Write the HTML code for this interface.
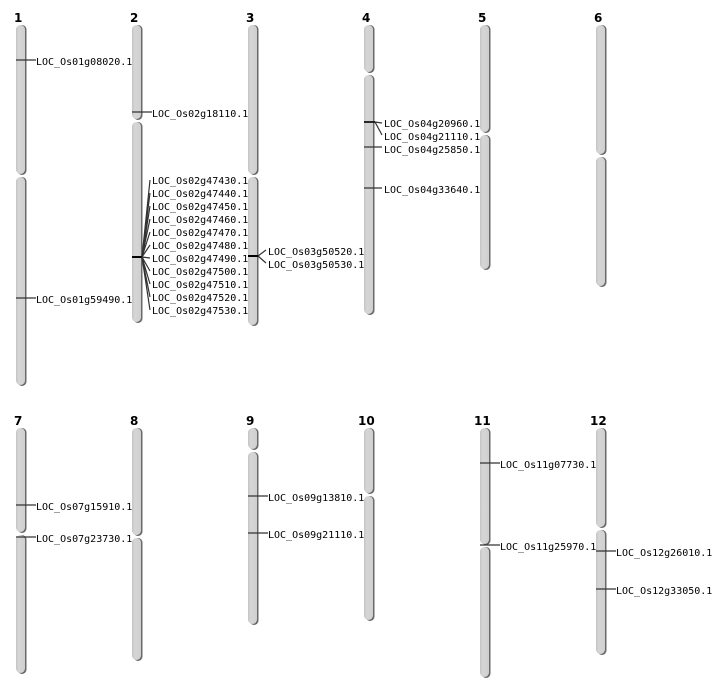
<!DOCTYPE html>
<html><head><meta charset="utf-8"><style>
html,body{margin:0;padding:0;background:#fff;}
svg{display:block;}
.n{font-family:"DejaVu Sans","Liberation Sans",sans-serif;font-weight:bold;font-size:12px;fill:#000;}
.l{font-family:"DejaVu Sans Mono","Liberation Mono",monospace;font-size:10px;fill:#000;}
.m{stroke:#333;stroke-width:1.2;fill:none;}
</style></head><body>
<svg width="712" height="700" viewBox="0 0 712 700" xmlns="http://www.w3.org/2000/svg">
<defs>
<linearGradient id="g" x1="0" x2="1" y1="0" y2="0">
<stop offset="0" stop-color="#c4c4c4"/><stop offset="0.3" stop-color="#d6d6d6"/><stop offset="1" stop-color="#cfcfcf"/>
</linearGradient>
<symbol id="dummy"></symbol>
</defs>
<g id="chroms">
<!-- chromosome arms: shadow + body -->
<!-- 1 -->
<rect x="17.5" y="25" width="9" height="150" rx="4.5" fill="#6a6a6a"/><rect x="16" y="25" width="9" height="149" rx="4.5" fill="url(#g)"/>
<rect x="17.5" y="177" width="9" height="209" rx="4.5" fill="#6a6a6a"/><rect x="16" y="177" width="9" height="208" rx="4.5" fill="url(#g)"/>
<!-- 2 -->
<rect x="133.5" y="25" width="9" height="95" rx="4.5" fill="#6a6a6a"/><rect x="132" y="25" width="9" height="94" rx="4.5" fill="url(#g)"/>
<rect x="133.5" y="122" width="9" height="201" rx="4.5" fill="#6a6a6a"/><rect x="132" y="122" width="9" height="200" rx="4.5" fill="url(#g)"/>
<!-- 3 -->
<rect x="249.5" y="25" width="9" height="150" rx="4.5" fill="#6a6a6a"/><rect x="248" y="25" width="9" height="149" rx="4.5" fill="url(#g)"/>
<rect x="249.5" y="177" width="9" height="149" rx="4.5" fill="#6a6a6a"/><rect x="248" y="177" width="9" height="148" rx="4.5" fill="url(#g)"/>
<!-- 4 -->
<rect x="365.5" y="25" width="9" height="48" rx="4.5" fill="#6a6a6a"/><rect x="364" y="25" width="9" height="47" rx="4.5" fill="url(#g)"/>
<rect x="365.5" y="75" width="9" height="240" rx="4.5" fill="#6a6a6a"/><rect x="364" y="75" width="9" height="239" rx="4.5" fill="url(#g)"/>
<!-- 5 -->
<rect x="481.5" y="25" width="9" height="108" rx="4.5" fill="#6a6a6a"/><rect x="480" y="25" width="9" height="107" rx="4.5" fill="url(#g)"/>
<rect x="481.5" y="135" width="9" height="135" rx="4.5" fill="#6a6a6a"/><rect x="480" y="135" width="9" height="134" rx="4.5" fill="url(#g)"/>
<!-- 6 -->
<rect x="597.5" y="25" width="9" height="130" rx="4.5" fill="#6a6a6a"/><rect x="596" y="25" width="9" height="129" rx="4.5" fill="url(#g)"/>
<rect x="597.5" y="157" width="9" height="130" rx="4.5" fill="#6a6a6a"/><rect x="596" y="157" width="9" height="129" rx="4.5" fill="url(#g)"/>
<!-- 7 -->
<rect x="17.5" y="428" width="9" height="105" rx="4.5" fill="#6a6a6a"/><rect x="16" y="428" width="9" height="104" rx="4.5" fill="url(#g)"/>
<rect x="17.5" y="535" width="9" height="139" rx="4.5" fill="#6a6a6a"/><rect x="16" y="535" width="9" height="138" rx="4.5" fill="url(#g)"/>
<!-- 8 -->
<rect x="133.5" y="428" width="9" height="108" rx="4.5" fill="#6a6a6a"/><rect x="132" y="428" width="9" height="107" rx="4.5" fill="url(#g)"/>
<rect x="133.5" y="538" width="9" height="123" rx="4.5" fill="#6a6a6a"/><rect x="132" y="538" width="9" height="122" rx="4.5" fill="url(#g)"/>
<!-- 9 -->
<rect x="249.5" y="428" width="9" height="22" rx="4.5" fill="#6a6a6a"/><rect x="248" y="428" width="9" height="21" rx="4.5" fill="url(#g)"/>
<rect x="249.5" y="452" width="9" height="173" rx="4.5" fill="#6a6a6a"/><rect x="248" y="452" width="9" height="172" rx="4.5" fill="url(#g)"/>
<!-- 10 -->
<rect x="365.5" y="428" width="9" height="66" rx="4.5" fill="#6a6a6a"/><rect x="364" y="428" width="9" height="65" rx="4.5" fill="url(#g)"/>
<rect x="365.5" y="496" width="9" height="125" rx="4.5" fill="#6a6a6a"/><rect x="364" y="496" width="9" height="124" rx="4.5" fill="url(#g)"/>
<!-- 11 -->
<rect x="481.5" y="428" width="9" height="117" rx="4.5" fill="#6a6a6a"/><rect x="480" y="428" width="9" height="116" rx="4.5" fill="url(#g)"/>
<rect x="481.5" y="547" width="9" height="131" rx="4.5" fill="#6a6a6a"/><rect x="480" y="547" width="9" height="130" rx="4.5" fill="url(#g)"/>
<!-- 12 -->
<rect x="597.5" y="428" width="9" height="100" rx="4.5" fill="#6a6a6a"/><rect x="596" y="428" width="9" height="99" rx="4.5" fill="url(#g)"/>
<rect x="597.5" y="530" width="9" height="125" rx="4.5" fill="#6a6a6a"/><rect x="596" y="530" width="9" height="124" rx="4.5" fill="url(#g)"/>
</g>

<text class="n" x="14" y="22">1</text><text class="n" x="130" y="22">2</text><text class="n" x="246" y="22">3</text>
<text class="n" x="362" y="22">4</text><text class="n" x="478" y="22">5</text><text class="n" x="594" y="22">6</text>
<text class="n" x="14" y="425">7</text><text class="n" x="130" y="425">8</text><text class="n" x="246" y="425">9</text>
<text class="n" x="358" y="425">10</text><text class="n" x="474" y="425">11</text><text class="n" x="590" y="425">12</text>

<!-- markers -->
<g class="m">
<path d="M16 60H36"/><path d="M16 298H36"/>
<path d="M132 112H152"/>
<path d="M132 257H142" stroke-width="2" stroke="#000"/>
<path d="M142 257L150 180M142 257L150 193M142 257L150 206M142 257L150 219M142 257L150 232M142 257L150 245M142 257L150 258M142 257L150 271M142 257L150 284M142 257L150 297M142 257L150 310"/>
<path d="M248 256H258" stroke-width="2" stroke="#000"/>
<path d="M258 256L266 250M258 256L266 263"/>
<path d="M364 122H375" stroke-width="1.6" stroke="#000"/>
<path d="M375 122L382 123M375 122L382 135"/>
<path d="M364 147H382"/><path d="M364 188H382"/>
<path d="M16 505H36"/><path d="M16 537H36"/>
<path d="M248 496H268"/><path d="M248 533H268"/>
<path d="M480 463H500"/><path d="M480 545H500"/>
<path d="M596 551H616"/><path d="M596 589H616"/>
</g>

<g class="l">
<text x="36" y="65">LOC_Os01g08020.1</text>
<text x="36" y="303">LOC_Os01g59490.1</text>
<text x="152" y="117">LOC_Os02g18110.1</text>
<text x="152" y="184">LOC_Os02g47430.1</text>
<text x="152" y="197">LOC_Os02g47440.1</text>
<text x="152" y="210">LOC_Os02g47450.1</text>
<text x="152" y="223">LOC_Os02g47460.1</text>
<text x="152" y="236">LOC_Os02g47470.1</text>
<text x="152" y="249">LOC_Os02g47480.1</text>
<text x="152" y="262">LOC_Os02g47490.1</text>
<text x="152" y="275">LOC_Os02g47500.1</text>
<text x="152" y="288">LOC_Os02g47510.1</text>
<text x="152" y="301">LOC_Os02g47520.1</text>
<text x="152" y="314">LOC_Os02g47530.1</text>
<text x="268" y="255">LOC_Os03g50520.1</text>
<text x="268" y="268">LOC_Os03g50530.1</text>
<text x="384" y="127">LOC_Os04g20960.1</text>
<text x="384" y="140">LOC_Os04g21110.1</text>
<text x="384" y="153">LOC_Os04g25850.1</text>
<text x="384" y="193">LOC_Os04g33640.1</text>
<text x="36" y="510">LOC_Os07g15910.1</text>
<text x="36" y="542">LOC_Os07g23730.1</text>
<text x="268" y="501">LOC_Os09g13810.1</text>
<text x="268" y="538">LOC_Os09g21110.1</text>
<text x="500" y="468">LOC_Os11g07730.1</text>
<text x="500" y="550">LOC_Os11g25970.1</text>
<text x="616" y="556">LOC_Os12g26010.1</text>
<text x="616" y="594">LOC_Os12g33050.1</text>
</g>
</svg>
</body></html>
